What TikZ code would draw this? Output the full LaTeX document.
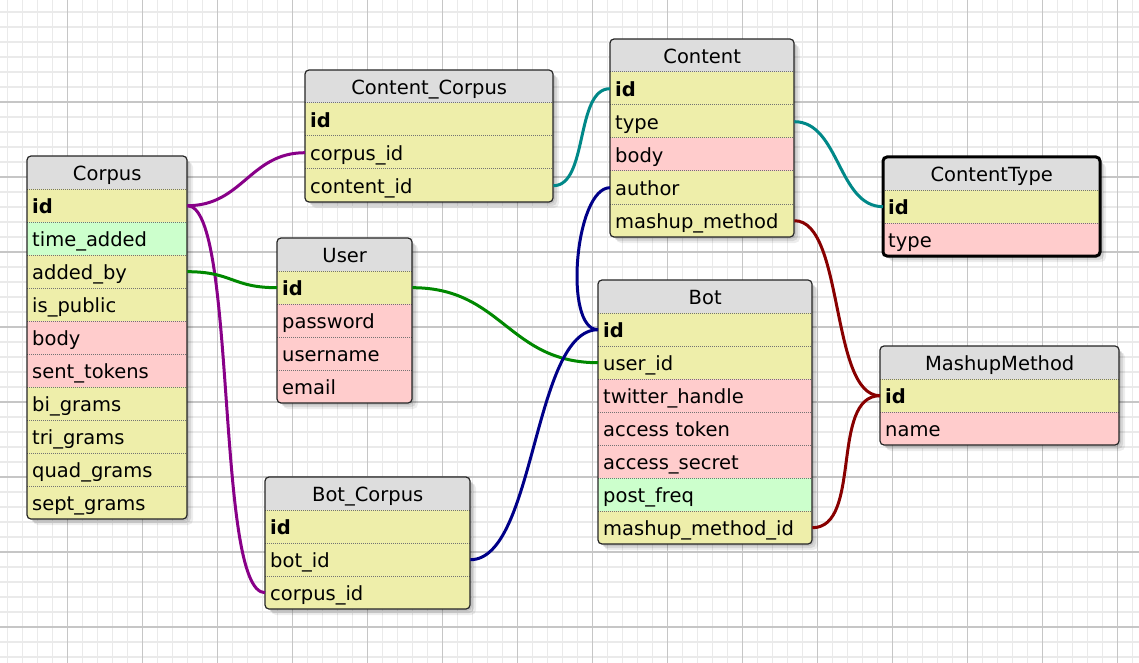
\documentclass[tikz,border=0pt]{standalone}
\usepackage{fontspec}
\setmainfont{DejaVu Sans}
\definecolor{Y}{HTML}{EEEEAA}
\definecolor{P}{HTML}{FFCCCC}
\definecolor{G}{HTML}{CCFFCC}
\definecolor{H}{HTML}{DDDDDD}
\definecolor{gridminor}{HTML}{EAEAEA}
\definecolor{gridmajor}{HTML}{C6C6C6}
\definecolor{cpurple}{HTML}{880088}
\definecolor{cgreen}{HTML}{008800}
\definecolor{cteal}{HTML}{008888}
\definecolor{cblue}{HTML}{000088}
\definecolor{cred}{HTML}{880000}
\tikzset{
  cell/.style={rectangle, inner xsep=5pt, inner ysep=0pt, minimum height=33pt,
    align=left, text height=16pt, text depth=0pt, font=\fontsize{19.5}{22}\selectfont},
  hdr/.style={rectangle, fill=H, inner sep=0pt, minimum height=33pt,
    text height=16pt, text depth=0pt, font=\fontsize{19.5}{22}\selectfont},
  rowsep/.style={draw=black!55, line width=1pt, dash pattern=on 1pt off 1pt},
  tabframe/.style={draw=black!85, line width=1.2pt, rounded corners=4pt},
  link/.style={line width=3pt},
  gmin/.style={draw=gridminor, line width=1.3pt},
  gmaj/.style={draw=gridmajor, line width=1.5pt},
}
\newcommand\erdtab[7]{%
  \pgfmathsetmacro\tabbot{#3+33*(#5+1)}%
  \pgfmathsetmacro\tabtw{#4-10}%
  \foreach \s/\o in {2/0.10,4/0.09,6/0.07}
    \fill[black, opacity=\o, rounded corners=5pt] ({#2+\s},{#3+\s}) rectangle ({#2+#4+\s},{\tabbot+\s});
  \begin{scope}
    \clip[rounded corners=4pt] (#2,#3) rectangle ({#2+#4},\tabbot);
    \node[hdr, minimum width=#4pt, anchor=north west] (#1) at (#2,#3) {#6};
    \foreach[count=\i] \rc/\rt in {#7} {
      \node[cell, fill=\rc, text width=\tabtw pt, anchor=north west] (#1-\i) at (#2,{#3+33*\i}) {\rt};
      \draw[rowsep] (#1-\i.north west) -- (#1-\i.north east);
    }
  \end{scope}
  \draw[tabframe] (#2,#3) rectangle ({#2+#4},\tabbot);
}
\begin{document}
\begin{tikzpicture}[x=1pt, y=-1pt]
\useasboundingbox (0,0) rectangle (1139,663);
\fill[white] (0,0) rectangle (1139,663);
\foreach \x in {7.5,22.5,...,1139} \draw[gmin] (\x,0) -- (\x,663);
\foreach \y in {12,27,...,663} \draw[gmin] (0,\y) -- (1139,\y);
\foreach \x in {67.5,142.5,...,1139} \draw[gmaj] (\x,0) -- (\x,663);
\foreach \y in {102,177,...,663} \draw[gmaj] (0,\y) -- (1139,\y);

\erdtab{corpus}{27}{156}{160}{10}{Corpus}{Y/\textbf{id},G/time\_added,Y/added\_by,Y/is\_public,P/body,P/sent\_tokens,Y/bi\_grams,Y/tri\_grams,Y/quad\_grams,Y/sept\_grams}
\erdtab{cc}{305}{70}{248}{3}{Content\_Corpus}{Y/\textbf{id},Y/corpus\_id,Y/content\_id}
\erdtab{content}{610}{39}{184}{5}{Content}{Y/\textbf{id},Y/type,P/body,Y/author,Y/mashup\_method}
\erdtab{ctype}{883}{157}{217}{2}{ContentType}{Y/\textbf{id},P/type}
\draw[line width=3pt, rounded corners=4pt] (883,157) rectangle (1100,256);
\erdtab{user}{277}{238}{135}{4}{User}{Y/\textbf{id},P/password,P/username,P/email}
\erdtab{bot}{598}{280}{214}{7}{Bot}{Y/\textbf{id},Y/user\_id,P/twitter\_handle,P/access token,P/access\_secret,G/post\_freq,Y/mashup\_method\_id}
\erdtab{bc}{265}{477}{205}{3}{Bot\_Corpus}{Y/\textbf{id},Y/bot\_id,Y/corpus\_id}
\erdtab{mm}{880}{346}{239}{2}{MashupMethod}{Y/\textbf{id},P/name}

\draw[link,cpurple] (corpus-1.east) .. controls +(55,0) and +(-55,0) .. (cc-2.west);
\draw[link,cpurple] (corpus-1.east) .. controls +(50,0) and +(-50,0) .. (bc-3.west);
\draw[link,cgreen] (corpus-3.east) .. controls +(45,0) and +(-45,0) .. (user-1.west);
\draw[link,cgreen] (user-1.east) .. controls +(90,0) and +(-90,0) .. (bot-2.west);
\draw[link,cteal] (cc-3.east) .. controls +(35,0) and +(-35,0) .. (content-1.west);
\draw[link,cteal] (content-2.east) .. controls +(45,0) and +(-45,0) .. (ctype-1.west);
\draw[link,cblue] (content-4.west) .. controls +(-35,0) and +(-35,0) .. (bot-1.west);
\draw[link,cblue] (bc-2.east) .. controls +(65,0) and +(-65,0) .. (bot-1.west);
\draw[link,cred] (content-5.east) .. controls +(50,0) and +(-50,0) .. (mm-1.west);
\draw[link,cred] (bot-7.east) .. controls +(50,0) and +(-50,0) .. (mm-1.west);
\end{tikzpicture}
\end{document}
